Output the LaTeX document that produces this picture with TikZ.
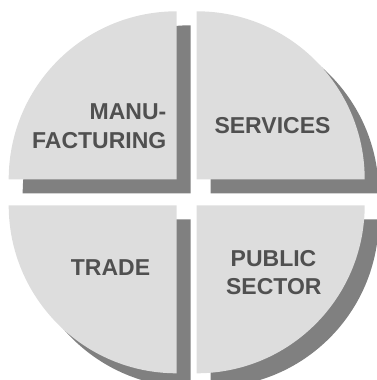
\documentclass[tikz,border=0pt]{standalone}
\usepackage{fontspec}
\setmainfont{Liberation Sans}
\definecolor{sectorfill}{HTML}{DDDDDD}
\definecolor{shadowgray}{HTML}{808080}
\definecolor{labelgray}{HTML}{505050}
\begin{document}
\begin{tikzpicture}[x=1pt,y=1pt,
  sector/.style={fill=sectorfill,draw=none},
  dropshadow/.style={fill=shadowgray,draw=none},
  lbl/.style={inner sep=0pt,text=labelgray,font=\fontsize{23}{28}\selectfont\bfseries}]
\useasboundingbox (0,0) rectangle (376,380);
\def\R{168}
% corners
\coordinate (tl) at (176.7,200.7);
\coordinate (tr) at (196.7,200.7);
\coordinate (bl) at (176.7,174.7);
\coordinate (br) at (196.7,174.7);
% shadow corners
\coordinate (tls) at ([shift={(14,-14)}]tl);
\coordinate (trs) at ([shift={(14,-14)}]tr);
\coordinate (bls) at ([shift={(14,-14)}]bl);
\coordinate (brs) at ([shift={(14,-14)}]br);
% shadows
\path[dropshadow] (tls) -- ++(-\R,0) arc[start angle=180,end angle=90,radius=\R] -- cycle;
\path[dropshadow] (trs) -- ++(\R,0) arc[start angle=0,end angle=90,radius=\R] -- cycle;
\path[dropshadow] (bls) -- ++(-\R,0) arc[start angle=180,end angle=270,radius=\R] -- cycle;
\path[dropshadow] (brs) -- ++(\R,0) arc[start angle=0,end angle=-90,radius=\R] -- cycle;
% sectors
\path[sector] (tl) -- ++(-\R,0) arc[start angle=180,end angle=90,radius=\R] -- cycle;
\path[sector] (tr) -- ++(\R,0) arc[start angle=0,end angle=90,radius=\R] -- cycle;
\path[sector] (bl) -- ++(-\R,0) arc[start angle=180,end angle=270,radius=\R] -- cycle;
\path[sector] (br) -- ++(\R,0) arc[start angle=0,end angle=-90,radius=\R] -- cycle;
% labels
\node[lbl,anchor=base east] (manu) at (166.5,260) {MANU-};
\node[lbl,anchor=base east] (fact) at (166.5,231) {FACTURING};
\node[lbl,anchor=base] (serv) at (272.5,246) {SERVICES};
\node[lbl,anchor=base] (trade) at (110.5,104) {TRADE};
\node[lbl,anchor=base] (pub) at (273.5,113.3) {PUBLIC};
\node[lbl,anchor=base] (sect) at (273.8,85) {SECTOR};
\end{tikzpicture}
\end{document}
